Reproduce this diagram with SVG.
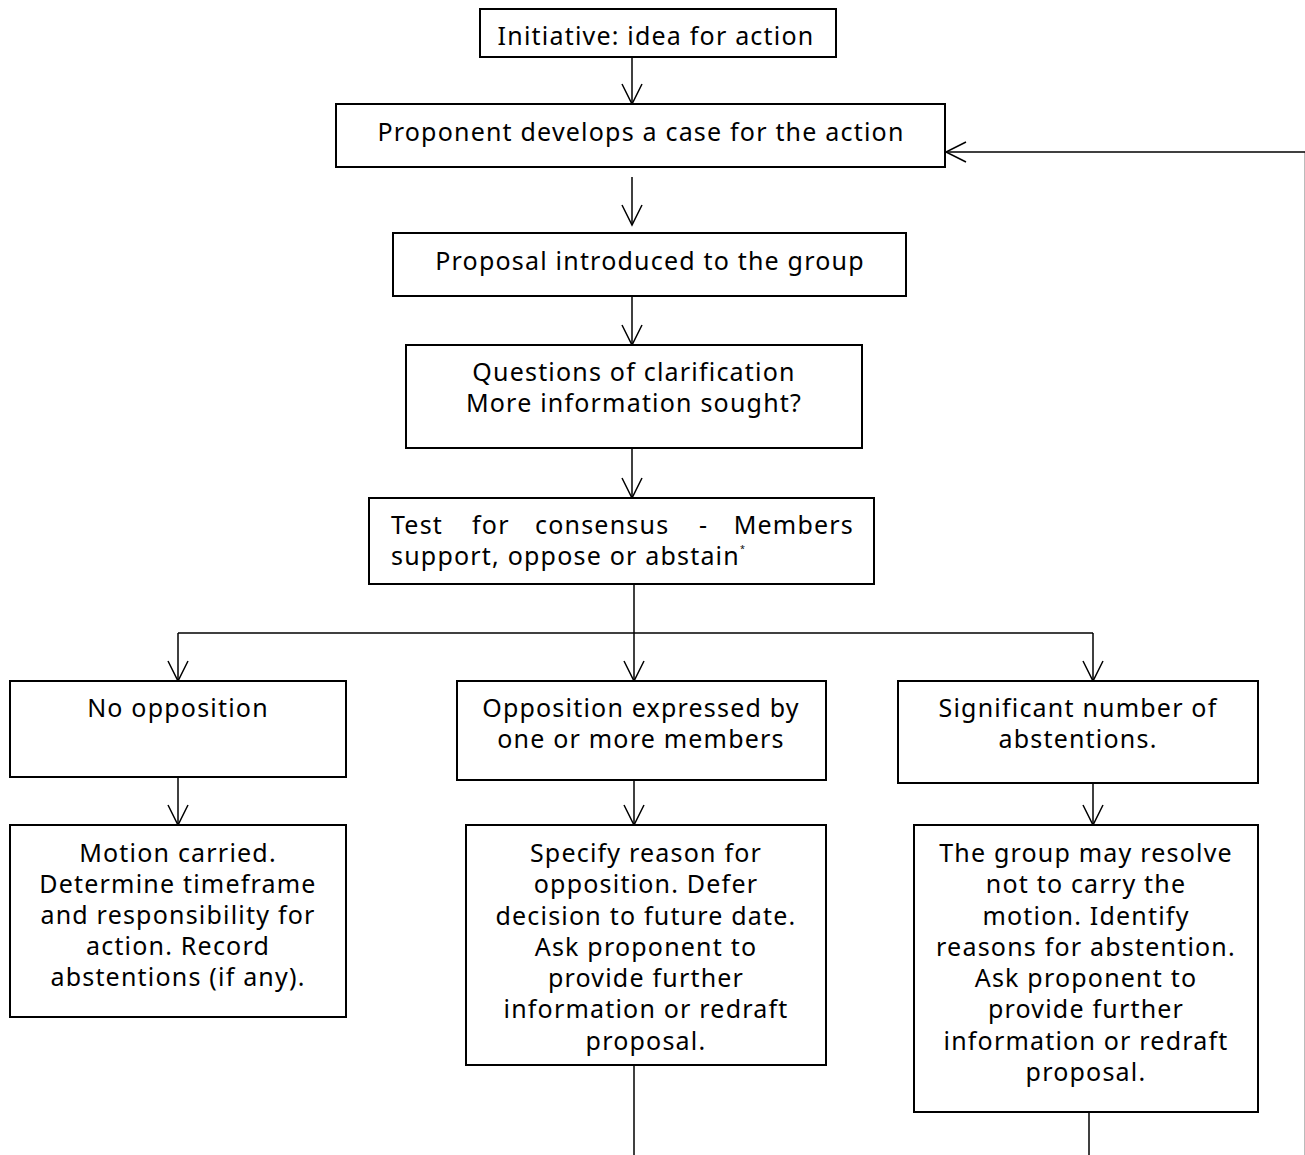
<svg xmlns="http://www.w3.org/2000/svg" width="1305" height="1155" viewBox="0 0 1305 1155">
<defs>
<marker id="arr" markerUnits="userSpaceOnUse" markerWidth="30" markerHeight="30" refX="20" refY="10" orient="auto" viewBox="0 0 30 20" overflow="visible">
<path d="M0,0 L20,10 L0,20" fill="none" stroke="#000" stroke-width="1.5"/>
</marker>
<style>
.box{fill:#fff;stroke:#000;stroke-width:2}
.t{font-family:"Noto Sans","DejaVu Sans",sans-serif;font-size:25px;letter-spacing:1.2px;fill:#000;text-anchor:middle}
.ts{font-family:"Noto Sans","DejaVu Sans",sans-serif;font-size:25px;letter-spacing:1.2px;fill:#000}
.c{fill:none;stroke:#000;stroke-width:1.5}
</style>
</defs>
<g id="connectors">
<line class="c" x1="632" y1="57" x2="632" y2="104" marker-end="url(#arr)"/>
<line class="c" x1="632" y1="177" x2="632" y2="225" marker-end="url(#arr)"/>
<line class="c" x1="632" y1="296" x2="632" y2="345" marker-end="url(#arr)"/>
<line class="c" x1="632" y1="448" x2="632" y2="498" marker-end="url(#arr)"/>
<line class="c" x1="634" y1="584" x2="634" y2="681" marker-end="url(#arr)"/>
<line class="c" x1="178" y1="633" x2="1093" y2="633"/>
<line class="c" x1="178" y1="633" x2="178" y2="681" marker-end="url(#arr)"/>
<line class="c" x1="1093" y1="633" x2="1093" y2="681" marker-end="url(#arr)"/>
<line class="c" x1="178" y1="777" x2="178" y2="825" marker-end="url(#arr)"/>
<line class="c" x1="634" y1="780" x2="634" y2="825" marker-end="url(#arr)"/>
<line class="c" x1="1093" y1="783" x2="1093" y2="825" marker-end="url(#arr)"/>
<line class="c" x1="634" y1="1065" x2="634" y2="1155"/>
<line class="c" x1="1089" y1="1112" x2="1089" y2="1155"/>
<line x1="1304.5" y1="152" x2="1304.5" y2="1155" stroke="#bbb" stroke-width="1"/>
<line class="c" x1="1305" y1="152" x2="946" y2="152" marker-end="url(#arr)"/>
</g>
<g id="n1"><rect class="box" x="480" y="9" width="356" height="48"/><text class="t" x="656" y="45">Initiative: idea for action</text></g>
<g id="n2"><rect class="box" x="336" y="104" width="609" height="63"/><text class="t" x="641" y="141">Proponent develops a case for the action</text></g>
<g id="n3"><rect class="box" x="393" y="233" width="513" height="63"/><text class="t" x="650" y="270">Proposal introduced to the group</text></g>
<g id="n4"><rect class="box" x="406" y="345" width="456" height="103"/><text class="t" x="634" y="381">Questions of clarification</text><text class="t" x="634" y="412">More information sought?</text></g>
<g id="n5"><rect class="box" x="369" y="498" width="505" height="86"/>
<text class="ts" x="391" y="534">Test</text><text class="ts" x="472" y="534">for</text><text class="ts" x="535" y="534">consensus</text><text class="ts" x="699" y="534">-</text><text class="ts" x="854" y="534" text-anchor="end">Members</text>
<text class="ts" x="391" y="565">support, oppose or abstain<tspan font-size="9" dy="-13">*</tspan></text></g>
<g id="n6"><rect class="box" x="10" y="681" width="336" height="96"/><text class="t" x="178" y="717">No opposition</text></g>
<g id="n7"><rect class="box" x="457" y="681" width="369" height="99"/><text class="t" x="641" y="717">Opposition expressed by</text><text class="t" x="641" y="748">one or more members</text></g>
<g id="n8"><rect class="box" x="898" y="681" width="360" height="102"/><text class="t" x="1078" y="717">Significant number of</text><text class="t" x="1078" y="748">abstentions.</text></g>
<g id="n9"><rect class="box" x="10" y="825" width="336" height="192"/>
<text class="t" x="178" y="862">Motion carried.</text><text class="t" x="178" y="893">Determine timeframe</text><text class="t" x="178" y="924">and responsibility for</text><text class="t" x="178" y="955">action. Record</text><text class="t" x="178" y="986">abstentions (if any).</text></g>
<g id="n10"><rect class="box" x="466" y="825" width="360" height="240"/>
<text class="t" x="646" y="862">Specify reason for</text><text class="t" x="646" y="893">opposition. Defer</text><text class="t" x="646" y="925">decision to future date.</text><text class="t" x="646" y="956">Ask proponent to</text><text class="t" x="646" y="987">provide further</text><text class="t" x="646" y="1018">information or redraft</text><text class="t" x="646" y="1050">proposal.</text></g>
<g id="n11"><rect class="box" x="914" y="825" width="344" height="287"/>
<text class="t" x="1086" y="862">The group may resolve</text><text class="t" x="1086" y="893">not to carry the</text><text class="t" x="1086" y="925">motion. Identify</text><text class="t" x="1086" y="956">reasons for abstention.</text><text class="t" x="1086" y="987">Ask proponent to</text><text class="t" x="1086" y="1018">provide further</text><text class="t" x="1086" y="1050">information or redraft</text><text class="t" x="1086" y="1081">proposal.</text></g>
</svg>
